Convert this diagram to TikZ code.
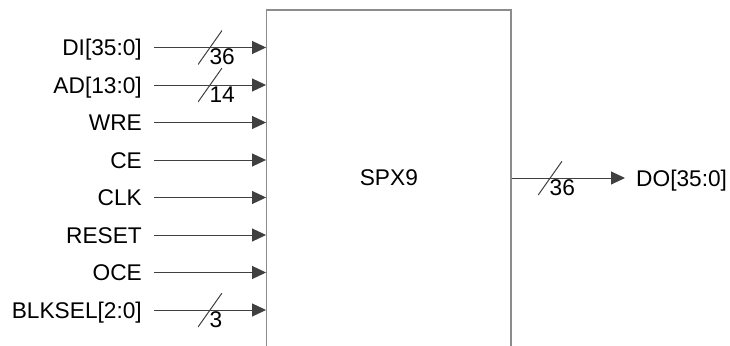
\documentclass[tikz,border=0pt]{standalone}
\usepackage{fontspec}
\setmainfont{Liberation Sans}
\usetikzlibrary{arrows.meta}
\definecolor{wire}{HTML}{404040}
\definecolor{frame}{HTML}{8C8C8C}

\begin{document}
\begin{tikzpicture}[x=1pt,y=-1pt,>={Triangle[length=14pt,width=13pt]},
	every node/.style={font=\fontsize{22.7}{27}\selectfont},
	wires/.style={->,draw=wire,line width=1pt},
	block/.style={draw=frame,line width=1.3pt,minimum width=244.3pt,minimum height=340pt,inner sep=0pt,text depth=4pt},
	sig/.style={anchor=east,text height=16.3pt,text depth=0pt,inner ysep=0pt,inner xsep=12pt},
	sigout/.style={anchor=west,text height=16.3pt,text depth=0pt,inner ysep=0pt,inner xsep=11pt},
	bus/.style={inner sep=0pt,minimum width=24pt,minimum height=34pt,
		path picture={\draw[-,wire,line width=1pt] (path picture bounding box.south west) -- (path picture bounding box.north east);}},
	buswidth/.style={anchor=base west,inner sep=0pt,xshift=-1pt,yshift=-17pt}]
	\useasboundingbox (0,0) rectangle (730,345);

	\node[block] (spx) at (388.85,180) {SPX9};

	\node[sig] (di) at (154,47.5) {DI[35:0]};
	\node[sig] (ad) at (154,85) {AD[13:0]};
	\node[sig] (wre) at (154,122.5) {WRE};
	\node[sig] (ce) at (154,160) {CE};
	\node[sig] (clk) at (154,197.5) {CLK};
	\node[sig] (reset) at (154,235) {RESET};
	\node[sig] (oce) at (154,272.5) {OCE};
	\node[sig] (blksel) at (154,310) {BLKSEL[2:0]};
	\node[sigout] (do) at (625,178) {DO[35:0]};

	\path
		(di)
			edge [wires] node[bus] {} node[buswidth] {36} (spx.west |- di)
		(ad)
			edge [wires] node[bus] {} node[buswidth] {14} (spx.west |- ad)
		(wre)
			edge [wires] (spx.west |- wre)
		(ce)
			edge [wires] (spx.west |- ce)
		(clk)
			edge [wires] (spx.west |- clk)
		(reset)
			edge [wires] (spx.west |- reset)
		(oce)
			edge [wires] (spx.west |- oce)
		(blksel)
			edge [wires] node[bus] {} node[buswidth] {3} (spx.west |- blksel)
		(spx.east |- do)
			edge [wires] node[bus,pos=0.34] {} node[buswidth,pos=0.34] {36} (do);

\end{tikzpicture}
\end{document}
